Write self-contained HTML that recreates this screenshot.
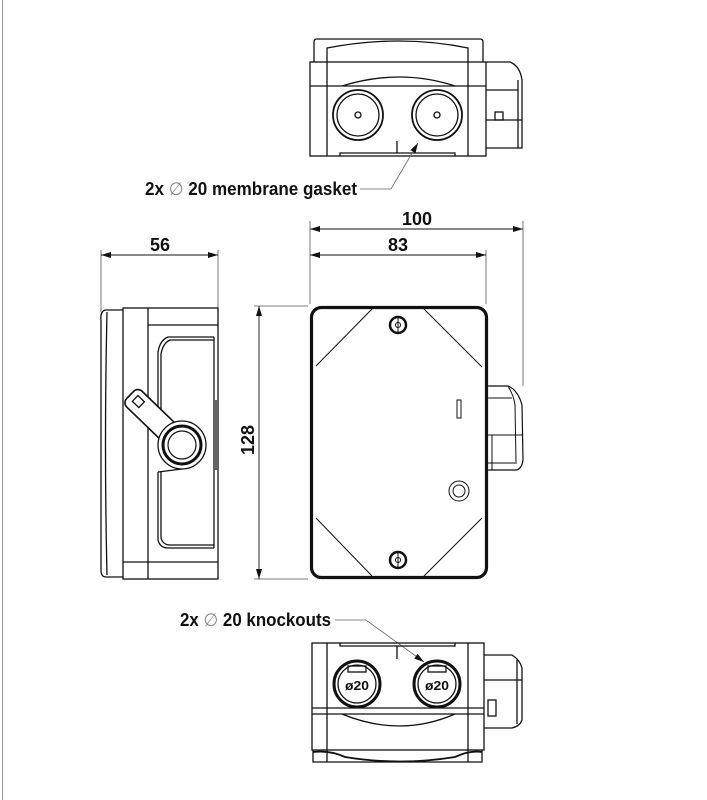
<!DOCTYPE html>
<html><head><meta charset="utf-8"><style>
html,body{margin:0;padding:0;background:#fff;width:707px;height:800px;overflow:hidden}
svg{display:block}
text{font-family:"Liberation Sans",sans-serif;font-weight:bold;fill:#111}
</style></head><body>
<svg width="707" height="800" viewBox="0 0 707 800" xmlns="http://www.w3.org/2000/svg">
<defs>
<marker id="a" viewBox="0 0 10 6" refX="10" refY="3" markerWidth="10" markerHeight="6" orient="auto-start-reverse" markerUnits="userSpaceOnUse"><path d="M0,0 L10,3 L0,6 z" fill="#111"/></marker>
</defs>
<line x1="2.5" y1="0" x2="2.5" y2="800" stroke="#999" stroke-width="1"/>

<!-- TOP VIEW -->
<g fill="none" stroke="#111" stroke-width="1.3">
<path d="M314,62 L314,42 Q314,39 317,39 L480,39 Q483,39 483,42 L483,62"/>
<path d="M327,62 L327,48 Q400,34 468,48 L468,62"/>
<rect x="310" y="62" width="176" height="94"/>
<line x1="310" y1="86" x2="486" y2="86"/>
<line x1="327" y1="62" x2="327" y2="156"/>
<line x1="468" y1="62" x2="468" y2="156"/>
<path d="M342,86 Q400,68 455,86"/>
<path d="M340,156 L340,153 L455,153 L455,156"/>
<line x1="397" y1="141" x2="397" y2="153"/>
<circle cx="358" cy="115" r="25" stroke-width="1.8"/><circle cx="358" cy="115" r="21"/><circle cx="358" cy="115" r="3"/>
<circle cx="437" cy="115" r="25" stroke-width="1.8"/><circle cx="437" cy="115" r="21"/><circle cx="437" cy="115" r="3"/>
<path d="M486,62 L510,62 Q520,66 522,80 L522,148 L486,148"/>
<line x1="486" y1="90" x2="518" y2="90"/>
<line x1="486" y1="120" x2="522" y2="120"/>
<rect x="495" y="112" width="8" height="8"/>
<line x1="518" y1="80" x2="518" y2="148"/>
</g>
<text x="145" y="195" font-size="18" textLength="212" lengthAdjust="spacingAndGlyphs">2x <tspan font-weight="normal" fill="#888">∅</tspan> 20 membrane gasket</text>
<polyline points="360,189 391,189 418,143" fill="none" stroke="#666" stroke-width="0.8" marker-end="url(#a)"/>

<!-- DIMENSIONS -->
<g stroke="#555" stroke-width="0.8" fill="none">
<line x1="310" y1="221" x2="310" y2="304"/><line x1="523" y1="221" x2="523" y2="386"/>
<line x1="486" y1="250" x2="486" y2="304"/>
<line x1="101" y1="250" x2="101" y2="312"/><line x1="218" y1="250" x2="218" y2="312"/>
<line x1="254" y1="306" x2="308" y2="306"/><line x1="254" y1="579" x2="308" y2="579"/>
</g>
<g stroke="#111" stroke-width="0.9">
<line x1="310" y1="229" x2="523" y2="229" marker-start="url(#a)" marker-end="url(#a)"/>
<line x1="310" y1="255" x2="486" y2="255" marker-start="url(#a)" marker-end="url(#a)"/>
<line x1="101" y1="255" x2="218" y2="255" marker-start="url(#a)" marker-end="url(#a)"/>
<line x1="259" y1="306" x2="259" y2="579" marker-start="url(#a)" marker-end="url(#a)"/>
</g>
<text x="402" y="225" font-size="18" textLength="30" lengthAdjust="spacingAndGlyphs">100</text>
<text x="388" y="251" font-size="18" textLength="20" lengthAdjust="spacingAndGlyphs">83</text>
<text x="150" y="251" font-size="18" textLength="20" lengthAdjust="spacingAndGlyphs">56</text>
<text transform="translate(254,455) rotate(-90)" font-size="18" textLength="30" lengthAdjust="spacingAndGlyphs">128</text>

<!-- SIDE VIEW -->
<g fill="none" stroke="#111" stroke-width="1.3">
<path d="M123,310 L105,310 Q100,312 101,320 L101,570 Q101,577 106,577 L123,577"/>
<path d="M107,312 Q104,445 107,575"/>
<rect x="123" y="308" width="95" height="271"/>
<line x1="148" y1="308" x2="148" y2="579"/>
<line x1="148" y1="325" x2="218" y2="325"/>
<line x1="123" y1="562" x2="218" y2="562"/>
<path d="M214,337 L168,337 Q160,340 158,352 L158,430"/>
<path d="M214,340 L170,340 Q163,343 161,354 L161,430"/>
<path d="M158,472 L158,540 Q160,548 168,548 L214,548"/>
<path d="M161,472 L161,538 Q163,545 170,545 L214,545"/>
<line x1="214" y1="337" x2="214" y2="548"/>
<path d="M158,472 L182,469"/>
<g transform="rotate(44 156 420)">
<rect x="120" y="409" width="72" height="22" rx="6" fill="#fff" stroke-width="1.6"/>
<rect x="126" y="415" width="9" height="8"/>
</g>
<circle cx="182" cy="445" r="24" fill="#fff" stroke-width="1.3"/>
<circle cx="182" cy="445" r="19" stroke-width="3"/>
<circle cx="182" cy="445" r="14" fill="#fff" stroke-width="1.2"/>
<line x1="216" y1="400" x2="216" y2="470"/>
</g>

<!-- FRONT VIEW -->
<g fill="none" stroke="#111">
<rect x="311.5" y="307.5" width="175" height="270" rx="10" stroke-width="3.2"/>
<line x1="372" y1="309" x2="316" y2="366" stroke-width="1"/>
<line x1="424" y1="309" x2="482" y2="367" stroke-width="1"/>
<line x1="316" y1="518" x2="372" y2="576" stroke-width="1"/>
<line x1="482" y1="518" x2="424" y2="576" stroke-width="1"/>
<circle cx="398" cy="325" r="8" stroke-width="2.5"/><circle cx="398" cy="325" r="2.5" stroke-width="1"/><line x1="398" y1="318" x2="398" y2="332" stroke-width="1"/>
<circle cx="398" cy="560" r="8" stroke-width="2.5"/><circle cx="398" cy="560" r="2.5" stroke-width="1"/><line x1="398" y1="553" x2="398" y2="567" stroke-width="1"/>
<rect x="457" y="400" width="4" height="18" stroke-width="1"/>
<circle cx="459" cy="491" r="10" stroke-width="1"/><circle cx="459" cy="491" r="6" stroke-width="1"/>
<path d="M487,386 L508,386 Q518,390 522,405 L523,460 Q522,468 517,470 L487,470" stroke-width="1.2"/>
<line x1="487" y1="398" x2="512" y2="398" stroke-width="1"/>
<path d="M508,386 Q514,396 515,405 L516,462" stroke-width="1"/>
<line x1="487" y1="435" x2="523" y2="435" stroke-width="1"/>
<line x1="487" y1="463" x2="517" y2="463" stroke-width="1"/>
<line x1="492" y1="435" x2="492" y2="470" stroke-width="1"/>
</g>

<!-- BOTTOM VIEW -->
<text x="180" y="626" font-size="18" textLength="151" lengthAdjust="spacingAndGlyphs">2x <tspan font-weight="normal" fill="#888">∅</tspan> 20 knockouts</text>
<polyline points="335,620 366,620 424,662" fill="none" stroke="#666" stroke-width="0.8" marker-end="url(#a)"/>
<g fill="none" stroke="#111" stroke-width="1.3">
<rect x="312" y="643" width="172" height="107"/>
<line x1="327" y1="643" x2="327" y2="750"/>
<line x1="468" y1="643" x2="468" y2="750"/>
<path d="M340,643 L340,646 L455,646 L455,643"/>
<line x1="397" y1="646" x2="397" y2="659"/>
<line x1="312" y1="708" x2="484" y2="708"/>
<line x1="312" y1="714" x2="484" y2="714"/>
<path d="M342,714 Q400,738 455,714"/>
<path d="M313,750 L313,762 L482,762 L482,750"/>
<path d="M313,752 Q330,750 345,757 Q400,766 455,757 Q470,750 482,752" stroke-width="1.8"/>
<line x1="327" y1="750" x2="327" y2="762"/><line x1="468" y1="750" x2="468" y2="762"/>
<circle cx="357" cy="684" r="23" stroke-width="3"/><circle cx="357" cy="684" r="19"/>
<rect x="348" y="666" width="18" height="6"/>
<circle cx="437" cy="684" r="23" stroke-width="3"/><circle cx="437" cy="684" r="19"/>
<rect x="428" y="666" width="18" height="6"/>
<path d="M484,655 L512,655 Q520,660 522,668 L522,720 Q520,726 512,728 L484,728"/>
<line x1="484" y1="680" x2="522" y2="680"/>
<line x1="517" y1="660" x2="517" y2="724"/>
<rect x="488" y="700" width="8" height="16"/>
</g>
<text x="345" y="690" font-size="13" fill="#222" textLength="24" lengthAdjust="spacingAndGlyphs">ø20</text>
<text x="425" y="690" font-size="13" fill="#222" textLength="24" lengthAdjust="spacingAndGlyphs">ø20</text>
</svg>
</body></html>
